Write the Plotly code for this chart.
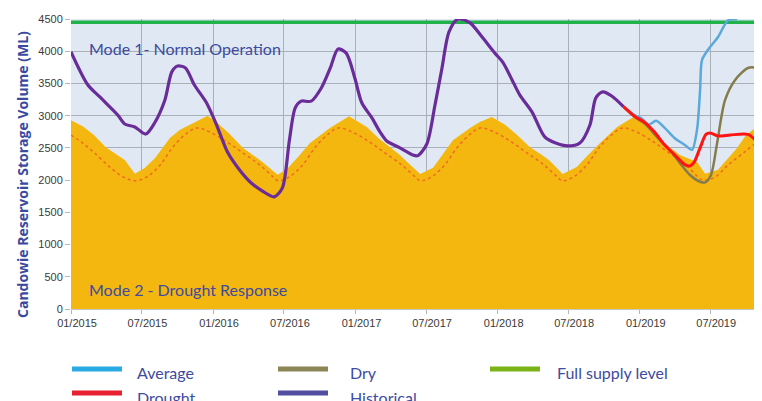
import plotly.graph_objects as go

# ---------------- data ----------------
rule_dates = [
    "2015-01-01", "2015-02-01", "2015-03-01", "2015-04-01", "2015-05-01", "2015-05-20", "2015-06-14",
    "2015-07-10", "2015-08-05", "2015-09-12", "2015-10-08", "2015-11-16", "2015-12-18",
    "2016-01-15", "2016-02-10", "2016-03-18", "2016-04-12", "2016-05-01", "2016-06-15",
    "2016-07-10", "2016-08-05", "2016-09-06", "2016-10-27", "2016-12-15",
    "2017-01-30", "2017-03-01", "2017-03-30", "2017-04-25", "2017-05-13", "2017-06-16",
    "2017-07-19", "2017-08-10", "2017-09-08", "2017-10-22", "2017-11-16", "2017-12-17",
    "2018-01-20", "2018-02-20", "2018-03-25", "2018-04-25", "2018-05-15", "2018-06-17",
    "2018-07-23", "2018-08-20", "2018-09-21", "2018-11-04", "2018-12-14",
    "2019-01-10", "2019-02-03", "2019-03-10", "2019-04-14", "2019-05-28", "2019-06-18",
    "2019-07-21", "2019-08-15", "2019-09-08", "2019-10-01", "2019-10-29", "2019-11-11",
]
rule_vals = [
    2930, 2830, 2700, 2505, 2385, 2310, 2100,
    2190, 2345, 2655, 2780, 2900, 3000,
    2870, 2730, 2500, 2390, 2310, 2085,
    2180, 2350, 2575, 2810, 2990,
    2825, 2650, 2515, 2390, 2285, 2095,
    2190, 2380, 2620, 2810, 2900, 2980,
    2860, 2700, 2510, 2390, 2300, 2095,
    2205, 2380, 2575, 2825, 2970,
    2900, 2730, 2550, 2390, 2280, 2100,
    2160, 2330, 2500, 2700, 2825, 2855,
]

trigger_dates = [
    "2015-01-01", "2015-02-01", "2015-03-01", "2015-04-11", "2015-05-15", "2015-06-14",
    "2015-07-15", "2015-08-18", "2015-09-20", "2015-10-26", "2015-11-21", "2015-12-24",
    "2016-02-06", "2016-03-18", "2016-04-30", "2016-06-03", "2016-06-16",
    "2016-07-15", "2016-08-18", "2016-09-20", "2016-10-26", "2016-11-18", "2016-12-24",
    "2017-02-06", "2017-03-18", "2017-04-30", "2017-06-03", "2017-06-16",
    "2017-07-15", "2017-08-18", "2017-09-20", "2017-10-26", "2017-11-17", "2017-12-24",
    "2018-02-06", "2018-03-18", "2018-04-30", "2018-06-03", "2018-06-16",
    "2018-07-15", "2018-08-18", "2018-09-20", "2018-10-26", "2018-11-18", "2018-12-24",
    "2019-02-06", "2019-03-18", "2019-04-30", "2019-06-01", "2019-06-12",
    "2019-07-12", "2019-08-16", "2019-09-27", "2019-11-11",
]
trigger_vals = [
    2700, 2570, 2430, 2200, 2050, 1990,
    2050, 2235, 2515, 2730, 2810, 2745,
    2590, 2420, 2235, 2050, 1990,
    2050, 2235, 2515, 2730, 2810, 2745,
    2590, 2420, 2235, 2050, 1990,
    2050, 2235, 2515, 2730, 2810, 2745,
    2590, 2420, 2235, 2050, 1990,
    2050, 2235, 2515, 2730, 2810, 2745,
    2590, 2420, 2235, 2040, 2000,
    2040, 2235, 2435, 2650,
]

hist_dates = [
    "2015-01-01", "2015-02-13", "2015-03-16", "2015-05-01", "2015-05-19", "2015-06-14",
    "2015-07-12", "2015-08-04", "2015-08-30", "2015-09-17", "2015-10-02", "2015-10-22",
    "2015-11-14", "2015-12-15", "2016-01-10", "2016-02-07", "2016-03-09", "2016-04-08",
    "2016-05-07", "2016-06-06", "2016-06-27", "2016-07-15", "2016-07-30", "2016-08-14",
    "2016-09-09", "2016-10-05", "2016-10-28", "2016-11-17", "2016-12-08", "2016-12-30",
    "2017-01-17", "2017-02-12", "2017-03-05", "2017-03-22", "2017-04-25", "2017-05-28",
    "2017-06-10", "2017-07-03", "2017-07-24", "2017-08-11", "2017-08-29", "2017-09-21",
    "2017-10-22", "2017-11-22", "2017-12-25", "2018-01-14", "2018-02-07", "2018-02-27",
    "2018-03-30", "2018-05-02", "2018-05-30", "2018-06-30", "2018-07-31", "2018-08-26",
    "2018-09-10", "2018-09-28", "2018-10-21", "2018-11-20",
]
hist_vals = [
    3990, 3480, 3290, 3010, 2870, 2825,
    2715, 2890, 3240, 3680, 3770, 3740,
    3476, 3200, 2855, 2435, 2157, 1955,
    1830, 1740, 1880, 2620, 3120, 3225,
    3225, 3430, 3740, 4035, 3970, 3585,
    3200, 2965, 2745, 2607, 2500, 2390,
    2380, 2560, 3165, 3740, 4300, 4500,
    4440, 4220, 3970, 3830, 3555, 3320,
    3060, 2670, 2575, 2530, 2575, 2855,
    3275, 3370, 3305, 3140,
]

avg_dates = [
    "2018-11-20", "2018-12-21", "2019-01-05", "2019-01-24", "2019-02-12", "2019-03-06",
    "2019-04-01", "2019-04-27", "2019-05-15", "2019-05-28", "2019-06-05", "2019-06-10",
    "2019-06-25", "2019-07-21", "2019-08-16", "2019-09-08",
]
avg_vals = [
    3140, 3000, 2960, 2860, 2920, 2810,
    2650, 2545, 2470, 2780, 3400, 3865,
    4020, 4220, 4480, 4500,
]

drought_dates = [
    "2018-11-20", "2018-12-21", "2019-01-13", "2019-02-08", "2019-03-06", "2019-04-01",
    "2019-04-27", "2019-05-10", "2019-05-20", "2019-06-05", "2019-06-20", "2019-07-01",
    "2019-07-21", "2019-08-21", "2019-10-06", "2019-10-24", "2019-11-11",
]
drought_vals = [
    3140, 2980, 2900, 2745, 2545, 2390,
    2240, 2220, 2270, 2500, 2710, 2730,
    2685, 2700, 2710, 2630, 2545,
]

dry_dates = [
    "2018-11-20", "2018-12-21", "2019-01-13", "2019-02-21", "2019-03-19", "2019-04-14",
    "2019-05-10", "2019-06-05", "2019-06-18", "2019-07-03", "2019-07-18", "2019-08-08",
    "2019-09-03", "2019-10-06", "2019-10-24", "2019-11-11",
]
dry_vals = [
    3140, 2970, 2880, 2625, 2470, 2265,
    2080, 1975, 1965, 2080, 2550, 3240,
    3555, 3740, 3745, 3680,
]

fsl_dates = ["2015-01-01", "2019-11-11"]
fsl_vals = [4450, 4450]

x_tick_vals = ["2015-01-01", "2015-07-01", "2016-01-01", "2016-07-01", "2017-01-01",
               "2017-07-01", "2018-01-01", "2018-07-01", "2019-01-01", "2019-07-01"]
x_tick_text = ["01/2015", "07/2015", "01/2016", "07/2016", "01/2017",
               "07/2017", "01/2018", "07/2018", "01/2019", "07/2019"]
y_tick_vals = [0, 500, 1000, 1500, 2000, 2500, 3000, 3500, 4000, 4500]

legend_items = [
    ("Average", "#29aae2"), ("Dry", "#8c8656"), ("Full supply level", "#7ab317"),
    ("Drought", "#e8202f"), ("Historical", "#524ea0"),
]

# ---------------- figure ----------------
# page body has an 8px margin; the figure is sized/offset to compensate
OFF = 8
FIG_H = 401 - OFF
PL, PT, PB_Y = 71, 19, 309            # plot-area edges in window pixels
PW, PH = 762 - PL, PB_Y - PT          # plot-area size

fig = go.Figure()

fig.add_trace(go.Scatter(x=rule_dates, y=rule_vals, mode="lines", fill="tozeroy",
                         fillcolor="#f3b70f", line=dict(width=0, color="#f3b70f"),
                         hoverinfo="skip"))
fig.add_trace(go.Scatter(x=trigger_dates, y=trigger_vals, mode="lines",
                         line=dict(color="#f26a21", width=1.5, dash="dot", shape="spline")))
fig.add_trace(go.Scatter(x=fsl_dates, y=fsl_vals, mode="lines",
                         line=dict(color="#22b24c", width=3.5)))
fig.add_trace(go.Scatter(x=avg_dates, y=avg_vals, mode="lines",
                         line=dict(color="#5ba8da", width=2.5, shape="spline", smoothing=0.8)))
fig.add_trace(go.Scatter(x=dry_dates, y=dry_vals, mode="lines",
                         line=dict(color="#857c4e", width=2.5, shape="spline", smoothing=0.8)))
fig.add_trace(go.Scatter(x=drought_dates, y=drought_vals, mode="lines",
                         line=dict(color="#ff1414", width=3, shape="spline", smoothing=0.8)))
fig.add_trace(go.Scatter(x=hist_dates, y=hist_vals, mode="lines",
                         line=dict(color="#6a2c98", width=3.2, shape="spline", smoothing=0.8)))

txt_col = "#3d4ba0"
fig.add_annotation(x=(87 - PL) / PW, xref="paper", y=4035, yref="y", text="Mode 1- Normal Operation",
                   showarrow=False, xanchor="left", yanchor="middle",
                   font=dict(family="Lato", size=16, color=txt_col))
fig.add_annotation(x=(87 - PL) / PW, xref="paper", y=310, yref="y", text="Mode 2 - Drought Response",
                   showarrow=False, xanchor="left", yanchor="middle",
                   font=dict(family="Lato", size=16, color=txt_col))

# y-axis title
fig.add_annotation(x=(22 - PL) / PW, xref="paper", y=(PB_Y - 175) / PH, yref="paper",
                   text="<b>Candowie Reservoir Storage Volume (ML)</b>", textangle=-90,
                   showarrow=False, xanchor="center", yanchor="middle",
                   font=dict(family="Open Sans", size=14, color="#3a4a9f"))

# manual legend
swatch_x = [72, 278, 490, 72, 278]
text_x = [135, 348, 555, 135, 348]
sw_y = [369, 369, 369, 393, 393]
tx_y = [372, 372, 372, 397, 397]
for (name, col), sx, tx, sy, ty in zip(legend_items, swatch_x, text_x, sw_y, tx_y):
    fig.add_shape(type="line", xref="paper", yref="paper",
                  x0=(sx - PL) / PW, x1=(sx + 50 - PL) / PW,
                  y0=(PB_Y - sy) / PH, y1=(PB_Y - sy) / PH,
                  line=dict(color=col, width=5))
    fig.add_annotation(x=(tx - PL) / PW, xref="paper", y=(PB_Y - ty) / PH, yref="paper",
                       text=name, showarrow=False, xanchor="left", yanchor="middle",
                       font=dict(family="Lato", size=16, color=txt_col))

fig.update_layout(
    width=762 - OFF, height=FIG_H,
    margin=dict(l=PL - OFF, r=0, t=PT - OFF, b=FIG_H - (PB_Y - OFF), pad=0),
    paper_bgcolor="white", plot_bgcolor="#e0e9f3",
    showlegend=False,
    xaxis=dict(type="date", range=["2015-01-01", "2019-11-11"],
               tickvals=x_tick_vals, ticktext=x_tick_text, automargin=False,
               showgrid=True, gridcolor="#aab0b8", gridwidth=1,
               ticks="outside", ticklen=4, tickcolor="#b5b5b5", ticklabelshift=6,
               showline=True, linecolor="#c8c8c8", zeroline=False,
               tickfont=dict(family="Liberation Sans", size=11, color="#3a3a3a")),
    yaxis=dict(range=[0, 4500], tickvals=y_tick_vals, automargin=False,
               showgrid=True, gridcolor="#aab0b8", gridwidth=1,
               ticks="outside", ticklen=5, tickcolor="#b5b5b5",
               zeroline=False, showline=False,
               tickfont=dict(family="Liberation Sans", size=11, color="#3a3a3a")),
)

fig.write_html("out.html")
